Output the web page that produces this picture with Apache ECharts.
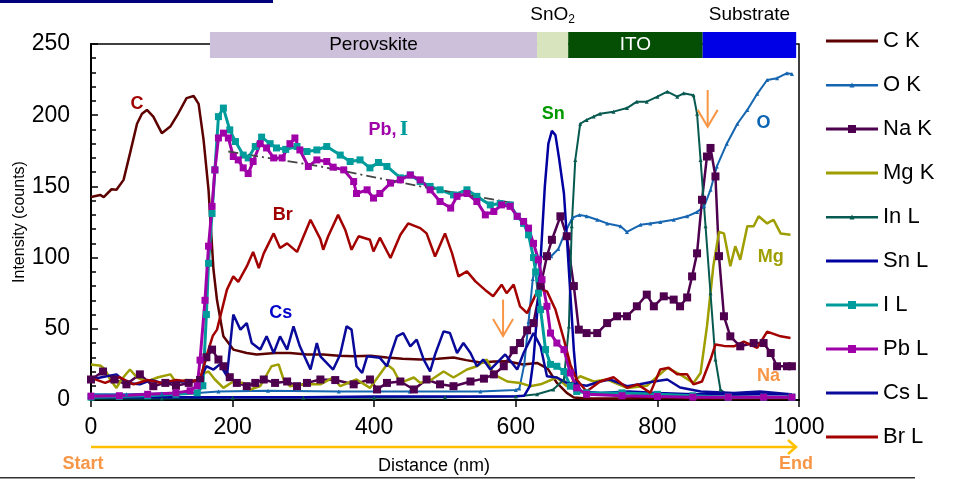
<!DOCTYPE html>
<html>
<head>
<meta charset="utf-8">
<script src="https://cdn.jsdelivr.net/npm/echarts@6/dist/echarts.min.js"></script>
<style>
html, body { margin: 0; padding: 0; background: #fff; }
#chart { width: 953px; height: 479px; }
</style>
</head>
<body>
<div id="chart"></div>
<script>
// Profile data [distance nm, counts]
const cK = [[0,142.5],[13,144],[18,142.5],[29,148],[36,147.6],[46,154.6],[55,173],[65,194],[72,201],[79,203.7],[88,199],[100,187.4],[112,192],[123,201],[135,212],[145,213.5],[152,208],[159,182.7],[166,147.6],[173,91.5],[178,70],[187,44.7],[201,35.4],[220,33],[234,32],[260,33],[281,33],[305,32],[328,32],[350,31],[371,30.7],[395,31],[418,29.8],[440,29],[465,28.4],[490,29],[512,29.8],[530,28],[550,26.3],[570,27],[588,27.2],[610,25],[630,26],[645,22],[658,12],[672,5],[682,1.7],[700,1],[750,1],[800,1.5],[850,1],[900,1],[950,1],[990,1]];
const oK = [[0,4],[50,4],[100,4.5],[150,5],[180,6],[250,6.5],[350,6],[450,6],[550,6],[600,7],[605,8],[612,25],[618,55],[624,85],[630,99],[640,101],[650,101],[660,106],[670,118],[680,128],[690,130],[700,129],[715,126.6],[729,124],[748,122],[757,118],[776,123],[790,124],[804,125],[823,126.6],[842,129],[856,132],[866,136],[875,147.6],[884,164],[898,180],[913,194],[927,203.7],[941,215],[955,224.7],[969,226],[983,229.5],[990,229]];
const naK = [[0,14.4],[17,20],[33,14.4],[50,11],[69,18],[88,9.7],[105,12],[120,10],[138,12],[154,14],[163,30],[171,35.4],[180,28.4],[187,23.7],[196,16],[206,12],[220,9.7],[232,12],[244,14.4],[260,12],[277,13],[291,9.7],[305,12],[324,14.4],[345,14],[371,11],[394,14.4],[404,7.4],[418,12],[437,13],[456,7.4],[474,14.4],[493,11],[512,9.7],[536,13],[555,15],[569,18],[583,23.7],[597,35],[606,40],[616,49],[625,54],[635,80],[644,101],[651,112.5],[663,129],[672,115],[682,80],[689,49.4],[700,47],[715,47],[729,54],[743,58.8],[757,58.8],[771,65.8],[785,74],[795,65.8],[809,72.8],[823,70.5],[832,65.8],[842,72],[849,86.8],[856,103],[863,140.6],[870,171],[875,177],[882,157],[887,101],[894,58.8],[903,44.7],[917,37.7],[936,40],[950,40],[960,33],[969,23.7],[983,23.7],[990,23.7]];
const mgK = [[0,25],[14,24],[20,21.4],[27,14.4],[36,8.5],[43,14.4],[55,21.4],[65,15.8],[79,13],[95,16],[112,18],[121,12],[135,14],[149,13],[161,19],[166,20],[175,14.4],[187,8.5],[201,13],[215,12],[225,7.4],[239,9.7],[255,23.7],[265,25],[272,14.4],[281,9.7],[300,11],[324,11],[342,15.8],[352,9.7],[375,14.4],[394,8.5],[418,25],[427,21.4],[437,12],[456,15.8],[465,12],[480,14],[498,20],[512,15.8],[531,21.4],[545,23.7],[559,28.4],[569,18],[588,13],[606,12],[620,9.7],[635,11],[658,15.8],[672,9.7],[691,16.7],[710,13],[729,14.4],[757,8.5],[785,10],[814,22.6],[832,18],[851,12],[861,19],[870,51.7],[879,94],[887,118],[894,117],[903,94],[910,108],[917,98.5],[927,122],[936,122],[943,129],[955,124],[964,126.6],[974,117],[988,116]];
const inL = [[0,1],[100,1],[200,1.5],[300,1.5],[400,1.5],[500,2],[600,2.5],[630,4],[653,7.4],[668,14.4],[675,51.7],[679,122],[684,168.6],[691,194],[700,196.7],[710,199],[719,201],[738,202.5],[757,205],[771,209.5],[785,209.5],[800,213],[814,216.5],[828,213],[837,215.4],[851,214],[856,201],[861,168.6],[868,122],[875,75],[882,28.4],[889,7.4],[900,3],[950,2],[990,2]];
const snL = [[0,2],[100,2],[200,2],[300,2],[400,2.5],[500,2.5],[600,2.7],[612,3],[620,10],[625,28.4],[630,60],[635,98.5],[641,150],[646,180],[651,189],[656,186],[661,170],[668,145],[672,115],[677,75],[682,35],[686,12],[692,6],[720,5],[760,6],[800,5],[850,4],[900,4],[950,4],[990,4]];
const iL = [[0,2],[40,2.5],[80,3],[120,4],[150,5],[158,10],[163,60],[166,96],[171,131],[175,161.6],[180,199],[187,205],[196,189.7],[204,181.5],[215,172],[222,170],[232,178],[241,184.6],[253,180],[262,177],[275,176],[291,178],[305,174.5],[319,175.6],[333,178],[352,172],[366,167.5],[380,168.6],[394,163],[406,166.8],[418,164],[437,156],[451,158],[465,153.4],[479,150],[493,147.6],[512,144],[531,147.6],[545,143],[564,137],[578,138],[592,137],[602,129],[611,124],[618,116],[625,100],[628,90],[632,75],[635,63.5],[642,35.4],[649,25],[658,23.7],[668,20],[677,9.7],[686,6],[700,5],[750,5],[800,4],[850,3],[900,2],[950,2],[990,2]];
const pbL = [[0,2.7],[40,3],[80,4],[120,5],[140,6.5],[150,10],[154,28],[161,70],[166,108],[171,136],[175,161.6],[180,184],[187,187.4],[194,184],[201,171],[208,168.6],[215,163],[222,159],[229,167.5],[239,180],[248,177],[258,170],[270,170],[281,180],[288,184],[295,175.6],[307,164],[319,168.6],[333,167.5],[342,163.5],[357,161.6],[371,153.4],[375,145],[390,147.6],[399,141.8],[408,145],[423,152.3],[437,154.6],[451,158],[465,154.6],[479,147.6],[493,139.4],[508,134.8],[517,143],[531,145],[545,139.4],[557,130],[569,132.4],[580,137],[592,136],[602,129],[611,125.4],[618,120.7],[625,110],[632,98.5],[637,84.5],[644,65.8],[649,47],[658,40],[668,35.4],[677,19],[686,8.5],[700,4],[750,3],[800,2.5],[850,2],[900,2],[950,2],[990,2]];
const csL = [[0,14.4],[15,16],[36,18],[50,12],[69,11],[85,14],[100,12],[120,13],[138,13],[154,14],[163,23.7],[173,21.4],[182,25],[192,16.7],[201,60],[211,49.4],[220,54],[227,40],[239,35.4],[248,44.7],[258,33],[267,44.7],[277,35.4],[286,51.7],[295,37.7],[310,21.4],[319,40],[324,30.7],[342,21.4],[352,32],[361,51.7],[368,49.4],[375,23.7],[383,19],[390,30.7],[408,29.6],[418,23.7],[432,44.7],[441,47],[451,37.7],[460,42.4],[470,28.4],[479,20],[486,32],[498,48.2],[507,47],[517,33],[526,40],[536,33],[545,23.7],[554,28.4],[564,21.4],[585,32],[602,21.4],[611,33],[625,47],[635,37.7],[644,16.7],[658,15.8],[672,12],[686,11],[700,10],[719,13],[733,14.4],[757,9.7],[775,11],[795,13],[814,14.4],[832,8.8],[861,6],[908,5],[945,6],[988,4]];
const brL = [[0,15.5],[20,12],[40,16],[60,11],[80,14],[100,12],[120,14],[140,13],[154,14.4],[163,30.7],[172,45],[178,49.4],[192,77.5],[201,86.8],[208,83],[220,93.8],[229,104],[237,92.7],[244,103],[258,117],[267,106.7],[277,110],[291,104],[310,126.6],[324,113],[328,105.5],[335,115],[349,130],[359,119.6],[368,105.5],[378,115],[394,112.5],[399,104.3],[408,114],[423,99.7],[437,116],[448,124],[465,120.7],[474,117],[486,100.8],[500,117],[510,103],[519,86.8],[531,90.3],[543,83.3],[559,76.3],[568,72.8],[580,81],[587,75],[597,81],[606,65.8],[616,61],[628,74],[637,77.5],[644,76.3],[656,63.5],[668,42.4],[677,25],[686,14.4],[700,6],[719,13],[738,16],[757,8.5],[772,11],[790,5],[804,21.4],[816,22.6],[828,18],[842,18],[851,11],[863,13],[875,28.4],[882,39],[894,38],[908,37.7],[922,41],[941,36.6],[955,48],[974,44.7],[988,43.6]];
// Pb/I trend guide (dash-dot)
const trend = [[194,174.5],[324,164],[465,150],[600,138]];

// layer bar on top of the plot
const layerEdges = [168, 630, 674, 864, 996];
const layerNames = ['Perovskite', 'SnO{s|2}', 'ITO', 'Substrate'];
const layerColors = ['#ccc0da', '#d7e4bd', '#054f05', '#0000e6'];

// element labels: [nm, counts, text, colour]
const notes = [
	[65, 208, 'C', '#a00000'],
	[271, 130, 'Br', '#a00000'],
	[268, 61, 'Cs', '#0000cc'],
	[653, 201, 'Sn', '#009900'],
	[950, 194.6, 'O', '#0a64b4'],
	[960, 100.6, 'Mg', '#9e9e00'],
	[957, 16.5, 'Na', '#f79646']
];
const arrows = [[582, 70.5, 45], [871, 217.7, 191.8]];

const FONT = 'Liberation Sans, Arial, sans-serif';

// legend icons: line, line + square, line + small triangle
const ICON_LINE = 'path://M0,0H52V3H0Z';
const ICON_SQ = 'path://M0,2.5H52V5.5H0Z M22,0H30V8H22Z';
const ICON_TRI = 'path://M0,3H52V5.5H0Z M23.5,6.5L26,1.5L28.5,6.5Z';

const line = (name, data, color, extra) => Object.assign({
	name: name,
	type: 'line',
	data: data,
	symbol: 'none',
	showAllSymbol: true,
	lineStyle: { color: color, width: 2.5 },
	itemStyle: { color: color },
	emphasis: { disabled: true }
}, extra || {});

const chart = echarts.init(document.getElementById('chart'));
const option = {
	animation: false,
	grid: { left: 91, right: 154, top: 44, bottom: 79, show: true, borderColor: '#000', borderWidth: 1.5 },
	legend: {
		orient: 'vertical',
		left: 826, top: 29, padding: 0,
		itemWidth: 52, itemHeight: 14, itemGap: 20,
		textStyle: { fontSize: 22, lineHeight: 24, color: '#000', fontFamily: FONT },
		data: [
			{ name: 'C K', icon: ICON_LINE },
			{ name: 'O K', icon: ICON_TRI },
			{ name: 'Na K', icon: ICON_SQ },
			{ name: 'Mg K', icon: ICON_LINE },
			{ name: 'In L', icon: ICON_TRI },
			{ name: 'Sn L', icon: ICON_LINE },
			{ name: 'I L', icon: ICON_SQ },
			{ name: 'Pb L', icon: ICON_SQ },
			{ name: 'Cs L', icon: ICON_LINE },
			{ name: 'Br L', icon: ICON_LINE }
		]
	},
	xAxis: {
		type: 'value', min: 0, max: 1000, interval: 200,
		axisLine: { lineStyle: { color: '#000', width: 2 } },
		axisTick: { inside: false, length: 7, lineStyle: { color: '#000', width: 1.5 } },
		axisLabel: { fontSize: 23, color: '#000', margin: 16, fontFamily: FONT, formatter: v => String(v) },
		splitLine: { show: false }
	},
	yAxis: {
		type: 'value', min: 0, max: 250, interval: 50,
		name: 'Intensity (counts)', nameLocation: 'middle', nameGap: 63, nameRotate: 90,
		nameMoveOverlap: false,
		nameTextStyle: { fontSize: 16, color: '#000', fontFamily: FONT },
		axisLine: { show: true, lineStyle: { color: '#000', width: 2 } },
		axisTick: { inside: true, length: 7, lineStyle: { color: '#000', width: 1.5 } },
		minorTick: { show: true, splitNumber: 5, length: 5, lineStyle: { color: '#000', width: 1.5 } },
		axisLabel: { fontSize: 23, color: '#000', margin: 21, fontFamily: FONT },
		splitLine: { show: false }
	},
	series: [
		line('C K', cK, '#5c0000'),
		line('O K', oK, '#1565b0', { symbol: 'triangle', symbolSize: 4, lineStyle: { color: '#1565b0', width: 2 } }),
		line('Na K', naK, '#4e004e', { symbol: 'rect', symbolSize: 8 }),
		line('Mg K', mgK, '#9e9e00'),
		line('In L', inL, '#075a50', { symbol: 'triangle', symbolSize: 4, lineStyle: { color: '#075a50', width: 2 } }),
		line('Sn L', snL, '#0000a0'),
		line('I L', iL, '#009c9c', { symbol: 'rect', symbolSize: 7, lineStyle: { color: '#009c9c', width: 3 } }),
		line('Pb L', pbL, '#a000a8', { symbol: 'rect', symbolSize: 7, lineStyle: { color: '#a000a8', width: 3 } }),
		line('Cs L', csL, '#0a0a9a'),
		line('Br L', brL, '#a30000'),
		{
			type: 'line', data: trend, symbol: 'none', silent: true, z: 3,
			lineStyle: { color: '#444', width: 1.8, type: [10, 4, 2, 4] }
		}
	]
};
chart.setOption(option);

// annotations placed through the chart's own coordinate system
const px = (x, y) => chart.convertToPixel({ xAxisIndex: 0, yAxisIndex: 0 }, [x, y]);
const yTop = px(0, 250)[1];
const yBase = px(0, 0)[1];
const graphics = [];

layerNames.forEach((nm, i) => {
	const x0 = px(layerEdges[i], 0)[0], x1 = px(layerEdges[i + 1], 0)[0];
	graphics.push({ type: 'rect', shape: { x: x0, y: yTop - 12, width: x1 - x0, height: 26 }, style: { fill: layerColors[i] }, z: 10 });
	const inside = (i === 0 || i === 2);
	graphics.push({
		type: 'text', z: 11,
		x: (x0 + x1) / 2, y: inside ? yTop + 1 : yTop - 29,
		style: {
			text: nm, fill: i === 2 ? '#fff' : '#000', font: '19px ' + FONT,
			align: 'center', verticalAlign: 'middle',
			rich: { s: { fontSize: 12, verticalAlign: 'bottom', padding: [9, 0, 0, 0], fill: '#000' } }
		}
	});
});

notes.forEach(n => {
	const p = px(n[0], n[1]);
	graphics.push({ type: 'text', z: 11, x: p[0], y: p[1], style: { text: n[2], fill: n[3], font: 'bold 18px ' + FONT, align: 'center', verticalAlign: 'middle' } });
});
const pbi = px(420, 189.6);
graphics.push({
	type: 'text', z: 11, x: pbi[0], y: pbi[1],
	style: {
		text: '{a|Pb,} {b|I}', align: 'center', verticalAlign: 'middle',
		rich: {
			a: { fill: '#a000a8', font: 'bold 18px ' + FONT },
			b: { fill: '#009c9c', font: 'bold 18px DejaVu Serif, serif' }
		}
	}
});

arrows.forEach(a => {
	const p0 = px(a[0], a[1]), p1 = px(a[0], a[2]);
	graphics.push({ type: 'line', z: 11, shape: { x1: p0[0], y1: p0[1], x2: p1[0], y2: p1[1] }, style: { stroke: '#f79646', lineWidth: 2 } });
	graphics.push({ type: 'polyline', z: 11, shape: { points: [[p1[0] - 10, p1[1] - 17], [p1[0], p1[1]], [p1[0] + 10, p1[1] - 17]] }, style: { stroke: '#f79646', lineWidth: 2, fill: null } });
});

// start → end arrow under the axis
const xs = px(0, 0)[0], xe = px(1000, 0)[0] - 3;
const ya = yBase + 47;
graphics.push({ type: 'line', shape: { x1: xs, y1: ya, x2: xe, y2: ya }, style: { stroke: '#ffc000', lineWidth: 2.5 } });
graphics.push({ type: 'polyline', shape: { points: [[xe - 8, ya - 7], [xe, ya], [xe - 8, ya + 7]] }, style: { stroke: '#ffc000', lineWidth: 2.5, fill: null } });
graphics.push({ type: 'text', x: xs - 8, y: ya + 17, style: { text: 'Start', fill: '#f79646', font: 'bold 18px ' + FONT, align: 'center', verticalAlign: 'middle' } });
graphics.push({ type: 'text', x: xe, y: ya + 17, style: { text: 'End', fill: '#f79646', font: 'bold 18px ' + FONT, align: 'center', verticalAlign: 'middle' } });
graphics.push({ type: 'text', x: 434, y: ya + 19, style: { text: 'Distance (nm)', fill: '#000', font: '18px ' + FONT, align: 'center', verticalAlign: 'middle' } });

// slide frame lines
graphics.push({ type: 'rect', shape: { x: 0, y: 0, width: 273, height: 3 }, style: { fill: '#00007a' } });
graphics.push({ type: 'rect', shape: { x: 0, y: 477, width: 915, height: 1.5 }, style: { fill: '#333' } });

chart.setOption({ graphic: graphics });
</script>
</body>
</html>
